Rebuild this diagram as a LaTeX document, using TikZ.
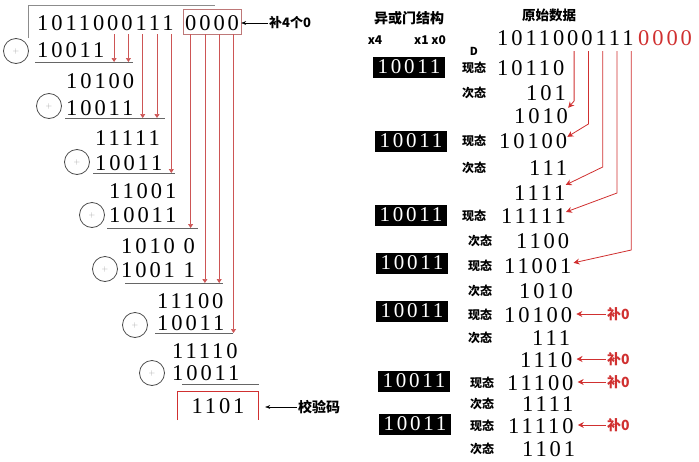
\documentclass[tikz,border=0pt]{standalone}
\usepackage{fontspec}
\setmainfont{Liberation Serif}
\newfontfamily\bitfont[LetterSpace=13]{Liberation Serif}
\newfontfamily\cjk{Noto Sans CJK SC}
\usetikzlibrary{arrows.meta,calc}
\definecolor{crcred}{RGB}{208,48,48}
\definecolor{linered}{RGB}{205,85,85}
\definecolor{padred}{RGB}{190,120,120}

\begin{document}
\begin{tikzpicture}[x=1pt, y=-1pt,
  bits/.style = {font=\bitfont\fontsize{22.5}{22.5}\selectfont, inner sep=0pt, anchor=base west},
  xorcircle/.style = {circle, draw=black!70, line width=0.8pt, minimum size=25pt, inner sep=0pt,
                      text=black!35, font=\sffamily\fontsize{8}{8}\selectfont},
  bar/.style = {draw=black!60, line width=1pt},
  drop/.style = {draw=linered, line width=0.7pt, -{Triangle[width=5pt,length=4pt]}},
  feed/.style = {draw=crcred, line width=0.8pt, -{Stealth[width=6pt,length=6pt]}},
  note/.style = {font=\cjk\bfseries\fontsize{13}{13}\selectfont, inner sep=1pt},
  state/.style = {font=\cjk\bfseries\fontsize{12}{12}\selectfont, inner sep=0pt},
  gate/.style = {fill=black, text=white, minimum width=72pt, minimum height=21pt, inner sep=0pt,
                 font=\bitfont\fontsize{21}{21}\selectfont},
  ]
  \useasboundingbox (0,0) rectangle (699,461);

  % long division
  \draw[draw=black!45, line width=0.8pt] (28,38) -- (28,5) -- (215,5);
  \node[bits] (dvd) at (37,30) {1011000111};
  \node[bits, draw=padred, inner xsep=2pt, inner ysep=0pt, text height=21pt, text depth=4pt]
    (pad) at (183,30) {0000};
  \node[note, anchor=west] (padnote) at (268,23) {补4个0};
  \draw[-{Stealth[length=5pt]}] (padnote.west) -- (pad.east |- padnote.west);

  \node[bits] (r1) at (37,57) {10011};
  \node[bits] (r2) at (66,88) {10100};
  \node[bits] (r3) at (66,115) {10011};
  \node[bits] (r4) at (95,145) {11111};
  \node[bits] (r5) at (95,170) {10011};
  \node[bits] (r6) at (109,198) {11001};
  \node[bits] (r7) at (109,222) {10011};
  \node[bits] (r8) at (121,253) {1010 0};
  \node[bits] (r9) at (121,277) {1001 1};
  \node[bits] (r10) at (157,308) {11100};
  \node[bits] (r11) at (157,330) {10011};
  \node[bits] (r12) at (172,358) {11110};
  \node[bits] (r13) at (172,380) {10011};
  \node[bits, anchor=center, minimum width=80pt, minimum height=28pt] (crc) at (218,406) {1101};
  \draw[draw=crcred, line width=0.9pt] (crc.south west) -- (crc.north west) -- (crc.north east) -- (crc.south east);
  \node[note, font=\cjk\bfseries\fontsize{14}{14}\selectfont, anchor=west] (crcnote) at (297,407) {校验码};
  \draw[-{Stealth[length=5pt]}, shorten >=7pt] (crcnote.west) -- (crc.east |- crcnote.west);

  \foreach \n/\x/\y in {1/16/51, 3/49/106, 5/77/162, 7/92/215, 9/105/269, 11/135/325, 13/152/373}
    \node[xorcircle] (c\n) at (\x,\y) {+};
  \foreach \n/\a/\b/\y in {1/35/133/62, 3/65/165/118, 5/93/175/173, 7/107/198/228,
                           9/125/223/283, 11/155/233/333, 13/182/259/384}
    \draw[bar] (\a,\y) coordinate (u\n) -- (\b,\y);

  \foreach \k in {6,...,10}
    \coordinate (d\k) at ($(dvd.base west)+({5.6+14.3*(\k-1)},4)$);
  \foreach \k in {11,...,14}
    \coordinate (d\k) at ($(pad.base west)+({7.6+14.3*(\k-11)},4)$);
  \foreach \k/\n in {6/1, 7/1, 8/3, 9/3, 10/5, 11/7, 12/9, 13/9, 14/11}
    \draw[drop] (d\k) -- (d\k |- u\n);

  % shift register
  \node[note, font=\cjk\bfseries\fontsize{14}{14}\selectfont] (gatehdr) at (409,18) {异或门结构};
  \node[note, font=\cjk\bfseries\fontsize{12}{12}\selectfont] (x4) at (375,40) {x4};
  \node[note, font=\cjk\bfseries\fontsize{12}{12}\selectfont] (x10) at (430,40) {x1 x0};
  \node[note, font=\cjk\bfseries\fontsize{11}{11}\selectfont] (dlbl) at (474,51) {D};
  \node[note, font=\cjk\bfseries\fontsize{13.5}{13.5}\selectfont] (rawhdr) at (549,15) {原始数据};
  \node[bits] (raw) at (497,45) {1011000111};
  \node[bits, text=crcred] (rawpad) at (638,45) {0000};

  \foreach \n/\x/\y in {1/409/67, 2/411/141, 3/411/215, 4/412/263, 5/412/311, 6/414/381, 7/415/424}
    \node[gate] (g\n) at (\x,\y) {10011};

  \foreach \n/\lab/\lx/\x/\y/\v in {1/现态/474/497/75/10110, 2/次态/474/526/100/101,
      3/现态/474/499/148/10100, 4/次态/474/529/175/111, 5/现态/474/501/223/11111,
      6/次态/480/516/248/1100, 7/现态/480/504/273/11001, 8/次态/480/519/298/1010,
      9/现态/480/504/322/10100, 10/次态/480/532/345/111, 11/现态/482/507/390/11100,
      12/次态/482/522/411/1111, 13/现态/482/508/433/11110, 14/次态/482/522/456/1101}
  {
    \node[bits] (s\n) at (\x,\y) {\v};
    \node[state] (l\n) at (\lx,\y-7.5) {\lab};
  }
  \node[bits] (t1) at (514,123) {1010};
  \node[bits] (t2) at (514,200) {1111};
  \node[bits] (t3) at (520,367) {1110};

  \foreach \k in {6,...,10}
    \coordinate (w\k) at ($(raw.base west)+({5.6+14.3*(\k-1)},6)$);
  \draw[feed] (w6) -- ++(0,50) -- (t1.north east);
  \draw[feed] (w7) -- ++(0,73) -- ($(s3.north east)+(0,4)$);
  \draw[feed] (w8) -- ++(0,116) -- (t2.north east);
  \draw[feed] (w9) -- ++(0,142) -- ($(s5.north east)+(0,4)$);
  \draw[feed] (w10) -- ++(0,199) -- ($(s7.north east)+(2,5)$);

  \foreach \n/\row/\y in {1/s9/314, 2/t3/359, 3/s11/382, 4/s13/425}
  {
    \node[note, text=crcred, font=\cjk\bfseries\fontsize{14}{14}\selectfont, anchor=west] (f\n) at (606,\y) {补0};
    \draw[feed, shorten >=4pt] (f\n.west) -- (\row.east |- f\n.west);
  }
\end{tikzpicture}
\end{document}
